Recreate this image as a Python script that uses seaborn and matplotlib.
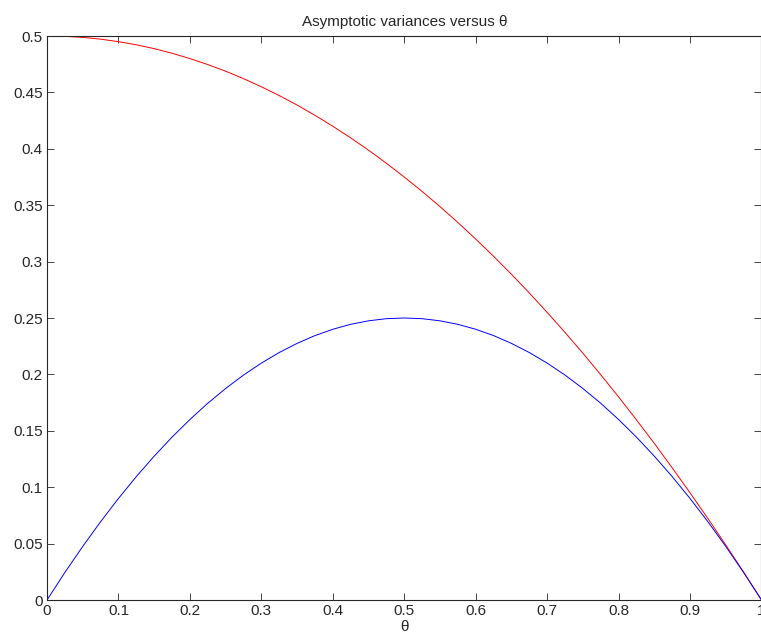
import matplotlib
matplotlib.use("Agg")
from matplotlib import pyplot as plt
import seaborn as sns
import pandas as pd

theta = [0.0, 0.025, 0.05, 0.075, 0.1, 0.125, 0.15, 0.175, 0.2, 0.225, 0.25,
         0.275, 0.3, 0.325, 0.35, 0.375, 0.4, 0.425, 0.45, 0.475, 0.5,
         0.525, 0.55, 0.575, 0.6, 0.625, 0.65, 0.675, 0.7, 0.725, 0.75,
         0.775, 0.8, 0.825, 0.85, 0.875, 0.9, 0.925, 0.95, 0.975, 1.0]
var_blue = [0.0, 0.0244, 0.0475, 0.0694, 0.09, 0.1094, 0.1275, 0.1444, 0.16, 0.1744, 0.1875,
            0.1994, 0.21, 0.2194, 0.2275, 0.2344, 0.24, 0.2444, 0.2475, 0.2494, 0.25,
            0.2494, 0.2475, 0.2444, 0.24, 0.2344, 0.2275, 0.2194, 0.21, 0.1994, 0.1875,
            0.1744, 0.16, 0.1444, 0.1275, 0.1094, 0.09, 0.0694, 0.0475, 0.0244, 0.0]
var_red = [0.5, 0.4997, 0.4988, 0.4972, 0.495, 0.4922, 0.4888, 0.4847, 0.48, 0.4747, 0.4688,
           0.4622, 0.455, 0.4472, 0.4388, 0.4297, 0.42, 0.4097, 0.3988, 0.3872, 0.375,
           0.3622, 0.3488, 0.3347, 0.32, 0.3047, 0.2888, 0.2722, 0.255, 0.2372, 0.2188,
           0.1997, 0.18, 0.1597, 0.1388, 0.1172, 0.095, 0.0722, 0.0488, 0.0247, 0.0]
xticks = [0, 0.1, 0.2, 0.3, 0.4, 0.5, 0.6, 0.7, 0.8, 0.9, 1]
yticks = [0, 0.05, 0.1, 0.15, 0.2, 0.25, 0.3, 0.35, 0.4, 0.45, 0.5]


def main():
    df = pd.DataFrame({"theta": theta, "blue": var_blue, "red": var_red})

    sns.set_style("ticks")
    plt.rcParams["font.family"] = ["Liberation Sans", "DejaVu Sans"]
    plt.rcParams["font.size"] = 11

    fig = plt.figure(figsize=(7.61, 6.35), dpi=100)
    ax = fig.add_axes([47 / 761, 35 / 635, 714.5 / 761, 564 / 635])

    sns.lineplot(data=df, x="theta", y="red", color="red", linewidth=0.7, ax=ax)
    sns.lineplot(data=df, x="theta", y="blue", color="blue", linewidth=0.7, ax=ax)

    ax.set_xlim(0, 1)
    ax.set_ylim(0, 0.5)
    ax.set_xticks(xticks)
    ax.set_xticklabels(["0", "0.1", "0.2", "0.3", "0.4", "0.5", "0.6", "0.7", "0.8", "0.9", "1"])
    ax.set_yticks(yticks)
    ax.set_yticklabels(["0", "0.05", "0.1", "0.15", "0.2", "0.25", "0.3", "0.35", "0.4", "0.45", "0.5"])
    ax.tick_params(direction="in", top=True, right=True, length=5, width=0.6,
                   labelsize=11, pad=3)
    for s in ax.spines.values():
        s.set_linewidth(0.8)
        s.set_visible(True)

    ax.set_xlabel("θ", fontsize=11, labelpad=1)
    ax.set_ylabel("")
    ax.set_title("Asymptotic variances versus θ", fontsize=11, pad=7)

    fig.savefig("out.png", dpi=100)


if __name__ == "__main__":
    main()
